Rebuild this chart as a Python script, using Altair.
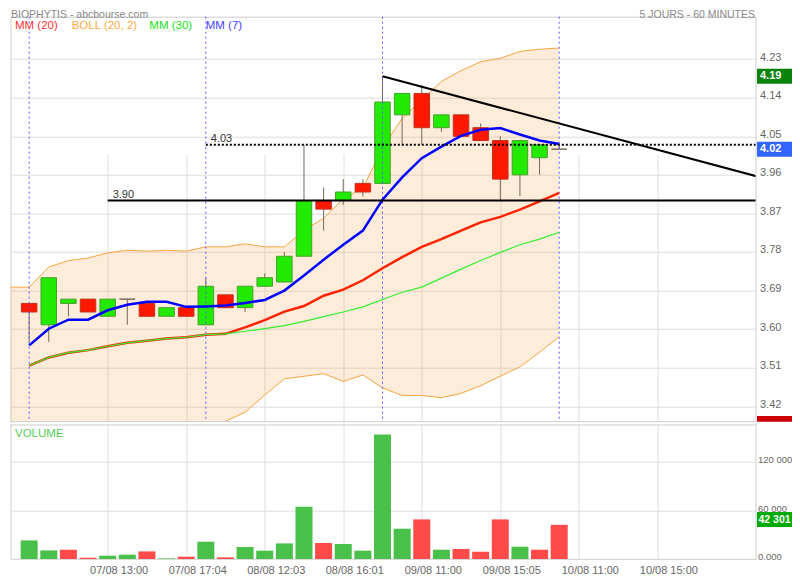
import altair as alt
import pandas as pd

# ---------------- data ----------------
idx = list(range(28))
opens  = [3.66, 3.61, 3.66, 3.67, 3.63, 3.67, 3.66, 3.63, 3.65, 3.61, 3.68, 3.65, 3.70, 3.71,
          3.77, 3.90, 3.90, 3.94, 3.94, 4.10, 4.15, 4.07, 4.10, 4.07, 4.04, 3.96, 4.00, 4.02]
highs  = [3.66, 3.72, 3.67, 3.67, 3.67, 3.67, 3.66, 3.65, 3.65, 3.72, 3.68, 3.70, 3.73, 3.78,
          4.03, 3.93, 3.95, 3.95, 4.19, 4.15, 4.17, 4.10, 4.10, 4.08, 4.05, 4.04, 4.03, 4.03]
lows   = [3.57, 3.57, 3.63, 3.64, 3.63, 3.61, 3.63, 3.63, 3.63, 3.61, 3.65, 3.64, 3.70, 3.71,
          3.77, 3.83, 3.89, 3.91, 3.94, 4.03, 4.03, 4.06, 4.05, 4.04, 3.90, 3.91, 3.96, 4.02]
closes = [3.64, 3.72, 3.67, 3.64, 3.67, 3.67, 3.63, 3.65, 3.63, 3.70, 3.65, 3.70, 3.72, 3.77,
          3.90, 3.88, 3.92, 3.92, 4.13, 4.15, 4.07, 4.10, 4.05, 4.04, 3.95, 4.04, 4.03, 4.02]
volumes = [23000, 10600, 11500, 1600, 4100, 5300, 9400, 750, 2850, 21400, 2000, 14850, 10300, 19300,
           64700, 19800, 18600, 10300, 154100, 37500, 49000, 11500, 12400, 9000, 49000, 15200, 11500, 42301]
vol_up = [1, 1, 0, 0, 1, 1, 0, 1, 0, 1, 0, 1, 1, 1, 1, 0, 1, 1, 1, 1, 0, 1, 0, 0, 0, 1, 0, 0]
mm7  = [3.562, 3.601, 3.622, 3.622, 3.644, 3.657, 3.664, 3.664, 3.652, 3.653, 3.655, 3.661, 3.668, 3.690,
        3.725, 3.762, 3.797, 3.830, 3.902, 3.954, 3.999, 4.026, 4.051, 4.065, 4.069, 4.054, 4.040, 4.032]
mm20 = [3.515, 3.534, 3.545, 3.551, 3.560, 3.568, 3.573, 3.578, 3.581, 3.587, 3.589, 3.604, 3.621, 3.641,
        3.654, 3.678, 3.692, 3.714, 3.742, 3.768, 3.792, 3.810, 3.830, 3.849, 3.862, 3.879, 3.898, 3.918]
mm30 = [3.515, 3.534, 3.545, 3.551, 3.560, 3.568, 3.573, 3.578, 3.581, 3.587, 3.589, 3.595, 3.601, 3.608,
        3.618, 3.629, 3.640, 3.652, 3.669, 3.686, 3.698, 3.719, 3.740, 3.760, 3.779, 3.797, 3.810, 3.826]
band_idx = list(range(-1, 28))
boll_up = [3.698, 3.698, 3.745, 3.760, 3.766, 3.778, 3.784, 3.782, 3.784, 3.782, 3.792, 3.792, 3.799, 3.792,
           3.792, 3.830, 3.859, 3.904, 3.929, 4.023, 4.092, 4.135, 4.178, 4.203, 4.224, 4.232, 4.248, 4.253, 4.256]
boll_low = [3.33, 3.33, 3.32, 3.33, 3.34, 3.34, 3.35, 3.36, 3.37, 3.38, 3.38, 3.385, 3.406, 3.446,
            3.484, 3.490, 3.496, 3.478, 3.493, 3.463, 3.445, 3.445, 3.440, 3.450, 3.468, 3.490, 3.512, 3.546, 3.582]
day_starts = [0, 9, 18, 27]
tick_pos = [4, 8, 12, 16, 20, 24, 28, 32]
tick_labels = ["07/08 13:00", "07/08 17:04", "08/08 12:03", "08/08 16:01",
               "09/08 11:00", "09/08 15:05", "10/08 11:00", "10/08 15:00"]
price_ticks = [3.42, 3.51, 3.60, 3.69, 3.78, 3.87, 3.96, 4.05, 4.14, 4.23]
vol_ticks = [0, 60000, 120000]
vol_tick_labels = ["0.000", "60 000", "120 000"]
hline_vals = [3.90, 4.03]
hline_start = [4, 9]
hline_style = ["solid", "dot"]
trend_x = [18, 38]
trend_y = [4.19, 3.945]
mark_vals = [4.19, 4.02, 3.38]
mark_text = ["4.19", "4.02", ""]
mark_cols = ["#0a820a", "#3366ff", "#cc0000"]
legend_names = ["MM (20)", "BOLL (20, 2)", "MM (30)", "MM (7)"]
legend_cols = ["#ff3030", "#ffaa44", "#22dd22", "#4444ff"]
title_left = "BIOPHYTIS - abcbourse.com"
title_right = "5 JOURS - 60 MINUTES"

# ---------------- layout / style constants ----------------
X_DOM = [-0.95, 37.0]
Y_DOM = [3.384, 4.329]
V_DOM = [0, 165800]
PW, PH, GAP, VH = 745, 405, 3.3, 134
H = PH + GAP + VH
BOX_W = 60
BOX_HALF = 7.5 * (Y_DOM[1] - Y_DOM[0]) / PH
VBOX_HALF = 7.5 * V_DOM[1] / VH
VBOX_SHIFT = 6500
LEGEND_X = [4.5, 61.2, 138.8, 195.2]
FONT = "Liberation Sans"
PAD = {"left": 2.5, "top": 8.7, "right": 784 - 2.5 - PW, "bottom": 22}

# ---------------- frames ----------------
cdf = pd.DataFrame({"i": idx, "o": opens, "h": highs, "l": lows, "c": closes,
                    "mm7": mm7, "mm20": mm20, "mm30": mm30, "vol": volumes,
                    "vdir": ["up" if u else "down" for u in vol_up]})
cdf["dir"] = ["up" if c > o else ("down" if c < o else "flat") for o, c in zip(opens, closes)]
bdf = pd.DataFrame({"i": band_idx, "up": boll_up, "lo": boll_low})
sdf = pd.DataFrame({"i": day_starts, "top": Y_DOM[1], "bot": Y_DOM[0]})
hdf = pd.DataFrame({"x0": hline_start, "x1": [X_DOM[1]] * len(hline_vals), "v": hline_vals,
                    "style": hline_style, "lab": [f"{v:.2f}" for v in hline_vals]})
tdf = pd.DataFrame({"i": trend_x, "v": trend_y})
mdf = pd.DataFrame({"v": mark_vals, "t": mark_text, "col": mark_cols})
vdf = pd.DataFrame({"v": [volumes[-1]], "t": [f"{volumes[-1]:,}".replace(",", " ")]})
one = pd.DataFrame({"k": [0]})

lab_expr = " : ".join(f"datum.value == {p} ? '{t}'" for p, t in zip(tick_pos, tick_labels)) + " : ''"
vlab_expr = " : ".join(f"datum.value == {p} ? '{t}'" for p, t in zip(vol_ticks, vol_tick_labels)) + " : ''"


def xq(field):
    return alt.X(field, type="quantitative",
                 scale=alt.Scale(domain=X_DOM, nice=False, zero=False, padding=0),
                 axis=alt.Axis(values=tick_pos, labelExpr=lab_expr, labelOffset=11, labelPadding=5,
                               ticks=False, domain=False, grid=True, title=None))


def yq(field):
    return alt.Y(field, type="quantitative",
                 scale=alt.Scale(domain=Y_DOM, range=[PH, 0], nice=False, zero=False, clamp=True),
                 axis=alt.Axis(orient="right", values=price_ticks, format=".2f", ticks=False,
                               domain=False, grid=True, labelPadding=4, labelOffset=-2, title=None))


def yv(field):
    return alt.Y(field, type="quantitative",
                 scale=alt.Scale(domain=V_DOM, range=[H, PH + GAP], nice=False, zero=False),
                 axis=alt.Axis(orient="right", values=vol_ticks, labelExpr=vlab_expr, ticks=False,
                               domain=False, grid=True, labelPadding=2, labelOffset=-2.5,
                               labelFontSize=9.5, title=None))


# ---------------- price panel ----------------
band = alt.Chart(bdf).mark_area(color="#f0a040", opacity=0.2, clip=True).encode(
    x=xq("i"), y=yq("up"), y2="lo")
band_up = alt.Chart(bdf).mark_line(color="#f7a440", strokeWidth=1, clip=True).encode(x=xq("i"), y=yq("up"))
band_lo = alt.Chart(bdf).transform_filter(f"datum.lo >= {Y_DOM[0]}").mark_line(
    color="#f7a440", strokeWidth=1, clip=True).encode(x=xq("i"), y=yq("lo"))

wicks = alt.Chart(cdf).mark_rule(color="#76685a", strokeWidth=1).encode(x=xq("i"), y=yq("l"), y2="h")
bodies = alt.Chart(cdf).mark_bar(size=15.5, strokeWidth=1).encode(
    x=xq("i"), y=yq("o"), y2="c",
    fill=alt.Fill("dir:N", scale=alt.Scale(domain=["up", "down", "flat"],
                                           range=["#22ea00", "#ff1800", "#7a6a5a"]), legend=None),
    stroke=alt.Stroke("dir:N", scale=alt.Scale(domain=["up", "down", "flat"],
                                               range=["#45a02c", "#c0321e", "#76685a"]), legend=None))

seps = alt.Chart(sdf).mark_rule(color="#5a5aff", strokeDash=[2, 3], strokeWidth=1).encode(
    x=xq("i"), y=yq("top"), y2="bot")

l20 = alt.Chart(cdf).mark_line(color="#ff2200", strokeWidth=2.5).encode(x=xq("i"), y=yq("mm20"))
l30 = alt.Chart(cdf).mark_line(color="#33ee33", strokeWidth=1.2).encode(x=xq("i"), y=yq("mm30"))
l7 = alt.Chart(cdf).mark_line(color="#0000ff", strokeWidth=2.5).encode(x=xq("i"), y=yq("mm7"))

hl = alt.Chart(hdf).mark_rule(color="black", strokeWidth=2).encode(
    x=xq("x0"), x2="x1", y=yq("v"),
    strokeDash=alt.StrokeDash("style:N", scale=alt.Scale(domain=["solid", "dot"], range=[[1, 0], [2, 2]]),
                              legend=None))
hl_lab = alt.Chart(hdf).mark_text(align="left", baseline="alphabetic", dx=5, dy=-2.5,
                                  fontSize=11, color="#333333").encode(x=xq("x0"), y=yq("v"), text="lab")
trend = alt.Chart(tdf).mark_line(color="black", strokeWidth=2, clip=True).encode(x=xq("i"), y=yq("v"))

boxes = alt.Chart(mdf).transform_calculate(
    top=f"datum.v + {BOX_HALF}", bot=f"datum.v - {BOX_HALF}"
).mark_rect().encode(x=alt.value(PW + 1.5), x2=alt.value(PW + 1.5 + BOX_W), y=yq("top"), y2="bot",
                     color=alt.Color("col:N", scale=None))
box_txt = alt.Chart(mdf).transform_filter("datum.t != ''").mark_text(
    align="left", baseline="middle", color="white", fontWeight="bold", fontSize=11).encode(
    x=alt.value(PW + 4.5), y=yq("v"), text="t")

legend_layers = [
    alt.Chart(pd.DataFrame({"t": [n]})).mark_text(align="left", baseline="middle", fontSize=11.5, color=c)
    .encode(text="t", x=alt.value(x), y=alt.value(9.4))
    for n, c, x in zip(legend_names, legend_cols, LEGEND_X)
]
head_l = alt.Chart(pd.DataFrame({"t": [title_left]})).mark_text(
    align="left", baseline="alphabetic", fontSize=10.5, color="#888888").encode(
    text="t", x=alt.value(0.5), y=alt.value(1.0))
head_r = alt.Chart(pd.DataFrame({"t": [title_right]})).mark_text(
    align="right", baseline="alphabetic", fontSize=10.5, color="#888888").encode(
    text="t", x=alt.value(PW - 0.5), y=alt.value(1.0))

price = alt.layer(band, band_up, band_lo, wicks, bodies, seps, l20, l30, l7, hl, trend, hl_lab,
                  boxes, box_txt, *legend_layers, head_l, head_r)

# ---------------- volume panel ----------------
gap = alt.Chart(one).mark_rect(color="white").encode(
    x=alt.value(0), x2=alt.value(PW), y=alt.value(PH + 0.5), y2=alt.value(PH + GAP - 0.5))
borders = alt.Chart(pd.DataFrame({"yy": [PH, PH + GAP]})).mark_rule(color="#cccccc", strokeWidth=1).encode(
    x=alt.value(0), x2=alt.value(PW), y=alt.Y("yy:Q", scale=None, axis=None))
vbars = alt.Chart(cdf).mark_bar(size=17, opacity=0.95).encode(
    x=xq("i"), y=yv("vol"),
    fill=alt.Fill("vdir:N", scale=alt.Scale(domain=["up", "down"], range=["#3fbd3f", "#ff4040"]), legend=None))
vlabel = alt.Chart(pd.DataFrame({"t": ["VOLUME"]})).mark_text(
    align="left", baseline="middle", fontSize=11.5, color="#55cc55").encode(
    text="t", x=alt.value(4.5), y=alt.value(PH + GAP + 9.2))
vbox = alt.Chart(vdf).transform_calculate(
    top=f"datum.v + {VBOX_SHIFT} + {VBOX_HALF}", bot=f"datum.v + {VBOX_SHIFT} - {VBOX_HALF}"
).mark_rect(color="#00aa00").encode(x=alt.value(PW + 1.5), x2=alt.value(PW + 1.5 + BOX_W),
                                    y=yv("top"), y2="bot")
vbox_txt = alt.Chart(vdf).transform_calculate(mid=f"datum.v + {VBOX_SHIFT}").mark_text(
    align="left", baseline="middle", color="white", fontWeight="bold", fontSize=10.5).encode(
    x=alt.value(PW + 3), y=yv("mid"), text="t")

volume = alt.layer(vbars, vlabel, vbox, vbox_txt)
frame = alt.layer(gap, borders)

chart = alt.layer(price, volume, frame).resolve_scale(
    y="independent", fill="independent", stroke="independent"
).properties(width=PW, height=H, padding=PAD, autosize=alt.AutoSizeParams(type="none")).configure_view(
    stroke="#cccccc", strokeWidth=1).configure_axis(
    gridColor="#dedede", gridWidth=1, labelColor="#666666", labelFontSize=11, labelFont=FONT
).configure_text(font=FONT)

chart.save("out.html", embed_options={"renderer": "svg", "actions": False})
